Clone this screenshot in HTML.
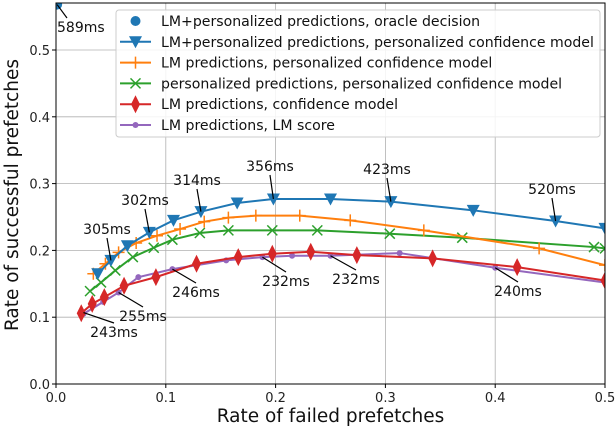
<!DOCTYPE html>
<html><head><meta charset="utf-8"><style>
body{margin:0;background:#fff;}
svg{display:block;font-family:"DejaVu Sans","Liberation Sans",sans-serif;}
</style></head><body>
<svg id="chart" width="616" height="430" viewBox="0 0 616 430"></svg>
<script>
const xTicks=[0,0.1,0.2,0.3,0.4,0.5];
const yTicks=[0,0.1,0.2,0.3,0.4,0.5];
const blueX=[0.038,0.05,0.065,0.085,0.107,0.132,0.165,0.198,0.25,0.305,0.38,0.455,0.5];
const blueY=[0.165,0.185,0.207,0.227,0.245,0.258,0.271,0.277,0.277,0.273,0.26,0.244,0.233];
const orangeX=[0.034,0.045,0.057,0.073,0.092,0.113,0.135,0.157,0.182,0.222,0.268,0.335,0.44,0.5];
const orangeY=[0.165,0.18,0.197,0.211,0.222,0.232,0.243,0.249,0.252,0.252,0.245,0.23,0.203,0.178];
const greenX=[0.031,0.041,0.054,0.07,0.089,0.106,0.131,0.157,0.197,0.238,0.304,0.37,0.49,0.5];
const greenY=[0.139,0.152,0.17,0.19,0.204,0.216,0.226,0.23,0.23,0.23,0.225,0.219,0.205,0.203];
const redX=[0.023,0.033,0.044,0.062,0.091,0.128,0.166,0.197,0.232,0.274,0.343,0.42,0.5];
const redY=[0.106,0.12,0.13,0.147,0.16,0.18,0.19,0.195,0.198,0.193,0.188,0.175,0.155];
const purpleX=[0.025,0.043,0.057,0.075,0.106,0.155,0.188,0.215,0.25,0.313,0.4,0.5];
const purpleY=[0.105,0.123,0.137,0.16,0.172,0.185,0.19,0.192,0.192,0.196,0.174,0.152];
const oracleX=[0.001];
const oracleY=[0.568];
const annLabels=["589ms","305ms","302ms","314ms","356ms","423ms","520ms","232ms","232ms","240ms","246ms","255ms","243ms"];
const annX=[0.001,0.05,0.085,0.132,0.198,0.305,0.455,0.188,0.25,0.4,0.106,0.057,0.025];
const annY=[0.568,0.185,0.227,0.258,0.277,0.273,0.244,0.19,0.192,0.174,0.172,0.137,0.107];

const L=56,R=605,T=3,B=384;
const sx=v=>L+v/0.5*(R-L);
const sy=v=>B-v/0.1*66.8;
const svg=document.getElementById('chart');
const NS='http://www.w3.org/2000/svg';
function mk(tag,attrs,parent){const e=document.createElementNS(NS,tag);for(const k in attrs)e.setAttribute(k,attrs[k]);(parent||svg).appendChild(e);return e;}

xTicks.forEach(t=>{const g=mk('line',{x1:sx(t),x2:sx(t),y1:T,y2:B,stroke:'#b0b0b0','stroke-width':0.8});

const tk=mk('text',{x:sx(t),y:B+18,'text-anchor':'middle','font-size':13,fill:'#222'});tk.textContent=t.toFixed(1);

mk('line',{x1:sx(t),x2:sx(t),y1:B,y2:B+4,stroke:'#000'});});
yTicks.forEach(t=>{const g=mk('line',{x1:L,x2:R,y1:sy(t),y2:sy(t),stroke:'#b0b0b0','stroke-width':0.8});

const tk=mk('text',{x:L-6,y:sy(t)+5,'text-anchor':'end','font-size':13,fill:'#222'});tk.textContent=t.toFixed(1);

mk('line',{x1:L-4,x2:L,y1:sy(t),y2:sy(t),stroke:'#000'});});

const clip=mk('clipPath',{id:'pc'});mk('rect',{x:L,y:T,width:R-L,height:B-T},clip);

function marker(type,x,y,c,g){
 if(type==='tri')return mk('path',{d:`M${x-6.5},${y-5.5}L${x+6.5},${y-5.5}L${x},${y+6.5}Z`,fill:c},g);
 if(type==='plus')return mk('path',{d:`M${x-6},${y}H${x+6}M${x},${y-6}V${y+6}`,stroke:c,'stroke-width':1.5},g);
 if(type==='x')return mk('path',{d:`M${x-5},${y-5}L${x+5},${y+5}M${x-5},${y+5}L${x+5},${y-5}`,stroke:c,'stroke-width':1.5},g);
 if(type==='dia')return mk('path',{d:`M${x},${y-9}L${x+4.5},${y}L${x},${y+9}L${x-4.5},${y}Z`,fill:c},g);
 if(type==='dot')return mk('circle',{cx:x,cy:y,r:3,fill:c},g);
 if(type==='circ')return mk('circle',{cx:x,cy:y,r:5,fill:c},g);
}
function series(name,xs,ys,c,type,line){
 const g=mk('g',{'clip-path':'url(#pc)'});
 
 
 if(line){mk('polyline',{points:xs.map((x,i)=>sx(x)+','+sy(ys[i])).join(' '),fill:'none',stroke:c,'stroke-width':2},g);}
 xs.forEach((x,i)=>marker(type,sx(x),sy(ys[i]),c,g));
}
series('series-lm-score',purpleX,purpleY,'#9467bd','dot',true);
series('series-lm-confidence',redX,redY,'#d62728','dia',true);
series('series-personalized',greenX,greenY,'#2ca02c','x',true);
series('series-lm-personalized-conf',orangeX,orangeY,'#ff7f0e','plus',true);
series('series-lm-plus-personalized',blueX,blueY,'#1f77b4','tri',true);
series('series-oracle',oracleX,oracleY,'#1f77b4','circ',false);

const textPos=[[57,32,'start'],[107,234,'middle'],[145,205,'middle'],[197,185,'middle'],[270,171,'middle'],[387,174,'middle'],[552,194,'middle'],[286,286,'middle'],[356,284,'middle'],[518,296,'middle'],[196,297,'middle'],[143,321,'middle'],[114,337,'middle']];
annLabels.forEach((lab,i)=>{
 const px=sx(annX[i]),py=sy(annY[i]);const [tx,ty,an]=textPos[i];
 const ay=ty< py? ty+4 : ty-14; const ax=an==='start'?tx+10:tx;
 const ln=mk('line',{x1:ax,y1:ay,x2:px,y2:py,stroke:'#000','stroke-width':1.2});
 
 const t=mk('text',{x:tx,y:ty,'text-anchor':an,'font-size':14,fill:'#111'});t.textContent=lab;
 
});

const fr=mk('rect',{x:L,y:T,width:R-L,height:B-T,fill:'none',stroke:'#000','stroke-width':1});


const xt=mk('text',{x:(L+R)/2+0,y:422,'text-anchor':'middle','font-size':18.5,fill:'#111'});xt.textContent='Rate of failed prefetches';

const yt=mk('text',{x:0,y:0,'text-anchor':'middle','font-size':18.5,fill:'#111',transform:'translate(18,195) rotate(-90)'});yt.textContent='Rate of successful prefetches';


const lg=mk('g',{});


mk('rect',{x:116,y:10,width:484,height:127,rx:3,fill:'#fff','fill-opacity':0.85,stroke:'#ccc'},lg);
const legLabels=['LM+personalized predictions, oracle decision','LM+personalized predictions, personalized confidence model','LM predictions, personalized confidence model','personalized predictions, personalized confidence model','LM predictions, confidence model','LM predictions, LM score'];
const legColors=['#1f77b4','#1f77b4','#ff7f0e','#2ca02c','#d62728','#9467bd'];
const legTypes=['circ','tri','plus','x','dia','dot'];
legLabels.forEach((lab,i)=>{
 const y=21+i*20.8;
 const e=mk('g',{},lg);
 
 
 if(i>0)mk('line',{x1:120,x2:151,y1:y,y2:y,stroke:legColors[i],'stroke-width':2},e);
 marker(legTypes[i],135.5,y,legColors[i],e);
 const t=mk('text',{x:161,y:y+5,'font-size':14.1,fill:'#111'},e);t.textContent=lab;
});
</script>
</body></html>
